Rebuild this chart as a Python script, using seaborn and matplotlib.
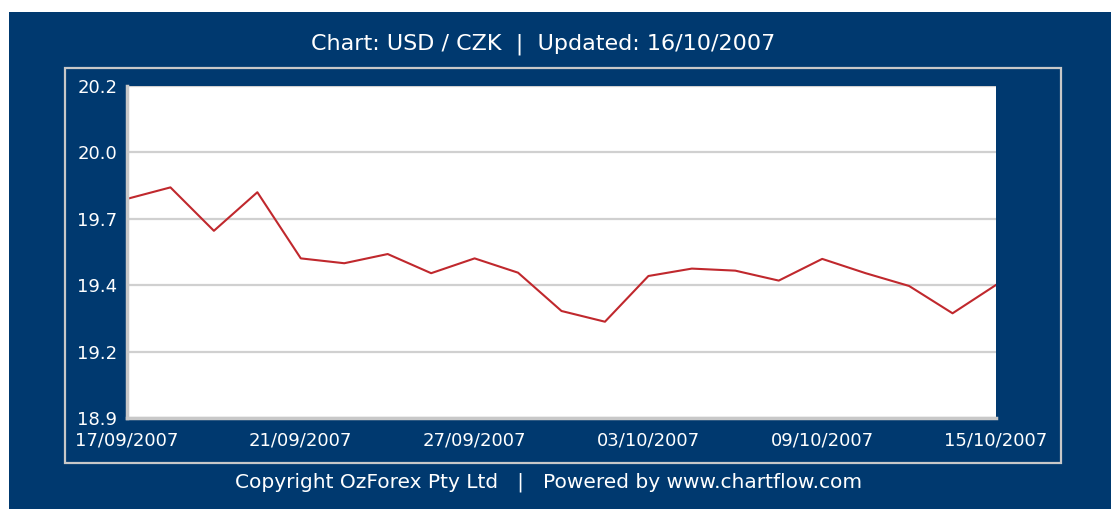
import numpy as np
import pandas as pd
import matplotlib
matplotlib.use("Agg")
import matplotlib.pyplot as plt
import seaborn as sns

# USD / CZK daily rate, trading days 17/09/2007 - 15/10/2007
dates = ["17/09/2007", "18/09/2007", "19/09/2007", "20/09/2007", "21/09/2007",
         "24/09/2007", "25/09/2007", "26/09/2007", "27/09/2007", "28/09/2007",
         "01/10/2007", "02/10/2007", "03/10/2007", "04/10/2007", "05/10/2007",
         "08/10/2007", "09/10/2007", "10/10/2007", "11/10/2007", "12/10/2007",
         "15/10/2007"]
rates = [19.778, 19.823, 19.653, 19.804, 19.545,
         19.526, 19.562, 19.487, 19.545, 19.489,
         19.339, 19.297, 19.476, 19.505, 19.497,
         19.458, 19.543, 19.487, 19.437, 19.330,
         19.441]
shown_dates = ["17/09/2007", "21/09/2007", "27/09/2007", "03/10/2007", "09/10/2007", "15/10/2007"]
y_ticks = [18.92, 19.18, 19.44, 19.70, 19.96, 20.22]

title = "Chart: USD / CZK  |  Updated: 16/10/2007"
footer = "Copyright OzForex Pty Ltd   |   Powered by www.chartflow.com"

navy = "#00396F"
df = pd.DataFrame({"date": dates, "rate": rates})
df["pos"] = np.arange(len(df))

fig = plt.figure(figsize=(11.11, 5.09), dpi=100)
fig.patch.set_facecolor("white")

# navy background panel and light frame
fig.add_artist(plt.Rectangle((9 / 1111, 0), 1, 1 - 12 / 509, transform=fig.transFigure,
                             facecolor=navy, edgecolor="none", zorder=0))
fig.add_artist(plt.Rectangle((65 / 1111, 1 - 463 / 509), 996 / 1111, 395 / 509,
                             transform=fig.transFigure, facecolor="none",
                             edgecolor="#C8C8C8", linewidth=1.6, zorder=1))

ax = fig.add_axes([127 / 1111, 1 - 418 / 509, 869 / 1111, 332 / 509])
ax.set_facecolor("white")
sns.lineplot(data=df, x="pos", y="rate", color="#C0282D", linewidth=1.5, ax=ax)

ax.set_xlim(0, len(df) - 1)
ax.set_ylim(y_ticks[0], y_ticks[-1])
ax.set_yticks(y_ticks)
ax.set_yticklabels([f"{v:.1f}" for v in y_ticks])
ax.set_xticks([dates.index(d) for d in shown_dates])
ax.set_xticklabels(shown_dates)
ax.grid(axis="y", color="#D0D0D0", linewidth=1.6)
ax.set_axisbelow(True)
ax.set_xlabel("")
ax.set_ylabel("")
ax.tick_params(axis="both", length=0, colors="white", labelsize=13)
ax.tick_params(axis="y", pad=7)
ax.tick_params(axis="x", pad=10)
for side in ["top", "right"]:
    ax.spines[side].set_visible(False)
for side in ["left", "bottom"]:
    ax.spines[side].set_color("#C8C8C8")
    ax.spines[side].set_linewidth(2.5)

fig.text(543 / 1111, 1 - 44 / 509, title, color="white", fontsize=16,
         ha="center", va="center")
fig.text(549 / 1111, 1 - 482 / 509, footer, color="white", fontsize=14.5,
         ha="center", va="center")

fig.savefig("out.png", dpi=100, facecolor=fig.get_facecolor())
